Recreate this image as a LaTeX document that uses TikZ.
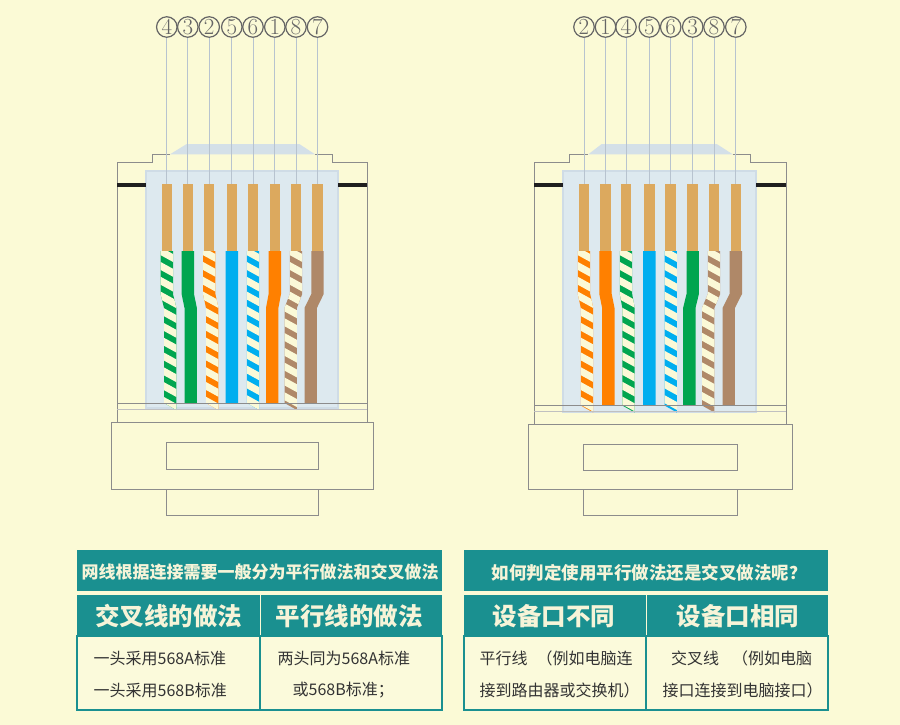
\documentclass[tikz,border=0pt]{standalone}
\usepackage{fontspec}
\newfontfamily\cjk{Noto Sans CJK SC}
\definecolor{bg}{HTML}{FBFAD6}
\definecolor{cellbg}{HTML}{FBFADB}
\definecolor{tealc}{HTML}{1A9090}
\definecolor{hdrtext}{HTML}{F6F4D8}
\definecolor{bodytext}{HTML}{333333}
\definecolor{numgray}{HTML}{666666}
\definecolor{guidecol}{HTML}{B7C3CF}
\definecolor{bodygray}{HTML}{8C8C8C}
\definecolor{trapc}{HTML}{D4E0E8}
\definecolor{panelc}{HTML}{DDE9EF}
\definecolor{paneledge}{HTML}{CFDCE6}
\definecolor{copper}{HTML}{DCA95E}
\definecolor{wgreen}{HTML}{00A54F}
\definecolor{worange}{HTML}{FF8000}
\definecolor{wblue}{HTML}{00AEEF}
\definecolor{wbrown}{HTML}{AF8868}
\definecolor{wcream}{HTML}{FBF9D7}
\newcommand{\kinkA}{294}
\newcommand{\kinkB}{308}
\newcommand{\wbot}{403}
\newcommand{\wsolid}[3]{%
  \fill[#3] ({#1-6.2},251) -- ({#1+6.2},251) -- ({#1+6.2},\kinkA) -- ({#2+6.2},\kinkB) -- ({#2+6.2},\wbot) -- ({#2-6.2},\wbot) -- ({#2-6.2},\kinkB) -- ({#1-6.2},\kinkA) -- cycle;}
\newcommand{\wstripe}[3]{%
  \begin{scope}
    \clip ({#1-6.2},251) -- ({#1+6.2},251) -- ({#1+6.2},\kinkA) -- ({#2+6.2},\kinkB) -- ({#2+6.2},\wbot+7) -- ({#2-6.2},\wbot) -- ({#2-6.2},\kinkB) -- ({#1-6.2},\kinkA) -- cycle;
    \fill[#3] ({#1-25},245) rectangle ({#1+25},\wbot+12);
    \foreach \k in {0,...,12} \draw[stripe] ({#1-25},{226+14.8*\k}) -- ({#1+25},{253.5+14.8*\k});
  \end{scope}}
\tikzset{
  num/.style={circle, draw=numgray, line width=1.2pt, minimum size=20.5pt, inner sep=0pt, text=numgray, font=\fontsize{23}{23}\selectfont},
  tipnode/.style={fill=copper, minimum width=10.5pt, minimum height=67pt, inner sep=0pt},
  guide/.style={draw=guidecol, line width=0.7pt},
  body/.style={draw=bodygray, line width=0.9pt},
  stripe/.style={line width=7pt, draw=wcream},
  panel/.style={fill=panelc, draw=paneledge, line width=2pt},
  hdr/.style={text=hdrtext, font=\cjk\bfseries\fontsize{17}{17}\selectfont, inner sep=0pt},
  sub/.style={text=hdrtext, font=\cjk\bfseries\fontsize{24.5}{24.5}\selectfont, inner sep=0pt},
  cell/.style={text=bodytext, font=\cjk\fontsize{16}{16}\selectfont, inner sep=0pt, anchor=west},
}
\begin{document}
\begin{tikzpicture}[x=1pt,y=-1pt]
\fill[bg] (0,0) rectangle (900,725);
\useasboundingbox (0,0) rectangle (900,725);

% ---------- left connector ----------
\draw[body] (117.3,422.7) -- (117.3,162.3) -- (152.3,162.3) -- (152.3,154.3) -- (170,154.3);
\draw[body] (315,154.3) -- (332.3,154.3) -- (332.3,162.3) -- (367.3,162.3) -- (367.3,422.7);
\fill[trapc] (170,154.3) -- (186.7,144) -- (299.3,144) -- (315,154.3) -- cycle;
\filldraw[panel] (146,171.3) rectangle (337.7,408);
\fill[black!88] (117.3,183) rectangle (146,187);
\fill[black!88] (337.7,183) rectangle (367.3,187);
\foreach \n/\x [count=\i] in {4/166.8,3/187.8,2/209.2,5/231.8,6/253,1/274.8,8/296,7/317.5} {
  \node[num] (Lc\i) at (\x,27) {\n};
  \node[tipnode] (Lt\i) at (\x,217.5) {};
  \draw[guide] (Lc\i.south) -- (Lt\i.north);
}
\renewcommand{\wbot}{403}
\wstripe{166.8}{170.2}{wgreen}
\wsolid{187.8}{190.7}{wgreen}
\wstripe{209.2}{212.2}{worange}
\wsolid{231.8}{231.8}{wblue}
\wstripe{253}{253}{wblue}
\wsolid{274.8}{272.2}{worange}
\wstripe{296}{290.7}{wbrown}
\wsolid{317.5}{310.7}{wbrown}
\draw[body] (117.3,403.3) -- (367.3,403.3);
\draw[body, draw=bodygray!55] (117.3,409) -- (367.3,409);
\draw[body] (111.7,422.7) rectangle (373.3,489);
\draw[body] (166.3,442.3) rectangle (318.3,469.3);
\draw[body] (166.3,489) rectangle (318.3,515.3);

% ---------- right connector ----------
\draw[body] (534.3,424.3) -- (534.3,162.3) -- (569.3,162.3) -- (569.3,154.3) -- (588.3,154.3);
\draw[body] (732.7,154.3) -- (750.7,154.3) -- (750.7,162.3) -- (786,162.3) -- (786,424.3);
\fill[trapc] (588.3,154.3) -- (601.7,144) -- (716.7,144) -- (732.7,154.3) -- cycle;
\filldraw[panel] (563.3,171.3) rectangle (756,411.7);
\fill[black!88] (534.3,183) rectangle (563.3,187);
\fill[black!88] (756,183) rectangle (786,187);
\foreach \n/\x [count=\i] in {2/584,1/605.5,4/626,5/649.3,6/670.7,3/692.7,8/714,7/735.8} {
  \node[num] (Rc\i) at (\x,27) {\n};
  \node[tipnode] (Rt\i) at (\x,217.5) {};
  \draw[guide] (Rc\i.south) -- (Rt\i.north);
}
\renewcommand{\wbot}{405.5}
\wstripe{584}{587}{worange}
\wsolid{605.5}{608.3}{worange}
\wstripe{626}{628.5}{wgreen}
\wsolid{649.3}{649.3}{wblue}
\wstripe{670.7}{670.7}{wblue}
\wsolid{692.7}{689.3}{wgreen}
\wstripe{714}{708.2}{wbrown}
\wsolid{735.8}{728.7}{wbrown}
\draw[body] (534.3,405.7) -- (786,405.7);
\draw[body, draw=bodygray!55] (534.3,411.7) -- (786,411.7);
\draw[body] (528.3,424.3) rectangle (792.3,489.3);
\draw[body] (583.3,444.3) rectangle (737.3,470);
\draw[body] (583.3,489.3) rectangle (737.3,515.3);

% ---------- left table ----------
\fill[tealc] (77.3,550) rectangle (442.3,590.7);
\fill[tealc] (77.3,595) rectangle (442.3,635.7);
\draw[bg, line width=1pt] (260,595) -- (260,635.7);
\filldraw[fill=cellbg, draw=tealc, line width=1.8pt] (77.3,635.7) rectangle (442.3,710);
\draw[tealc, line width=1.8pt] (260,635.7) -- (260,710);
\node[hdr] (lh) at (260,572) {网线根据连接需要一般分为平行做法和交叉做法};
\node[sub] (ls1) at (168.5,616.5) {交叉线的做法};
\node[sub] (ls2) at (349,616.5) {平行线的做法};
\node[cell] (lb1) at (93.5,658) {一头采用568A标准};
\node[cell] (lb2) at (93.5,690) {一头采用568B标准};
\node[cell] (lb3) at (277.5,658) {两头同为568A标准};
\node[cell] (lb4) at (292.5,690) {或568B标准；};

% ---------- right table ----------
\fill[tealc] (464.3,550) rectangle (827.7,590.7);
\fill[tealc] (464.3,595) rectangle (827.7,635.7);
\draw[bg, line width=1pt] (646,595) -- (646,635.7);
\filldraw[fill=cellbg, draw=tealc, line width=1.8pt] (464.3,635.7) rectangle (827.7,710);
\draw[tealc, line width=1.8pt] (646,635.7) -- (646,710);
\node[hdr, font=\cjk\bfseries\fontsize{17.5}{17.5}\selectfont] (rh) at (649,573) {如何判定使用平行做法还是交叉做法呢？};
\node[sub] (rs1) at (554,616.5) {设备口不同};
\node[sub] (rs2) at (738,616.5) {设备口相同};
\node[cell] (rb1) at (479.5,658) {平行线\hspace{9pt}（例如电脑连};
\node[cell] (rb2) at (479.5,690) {接到路由器或交换机）};
\node[cell] (rb3) at (671,658) {交叉线\hspace{13pt}（例如电脑};
\node[cell] (rb4) at (662.5,690) {接口连接到电脑接口）};
\end{tikzpicture}
\end{document}
